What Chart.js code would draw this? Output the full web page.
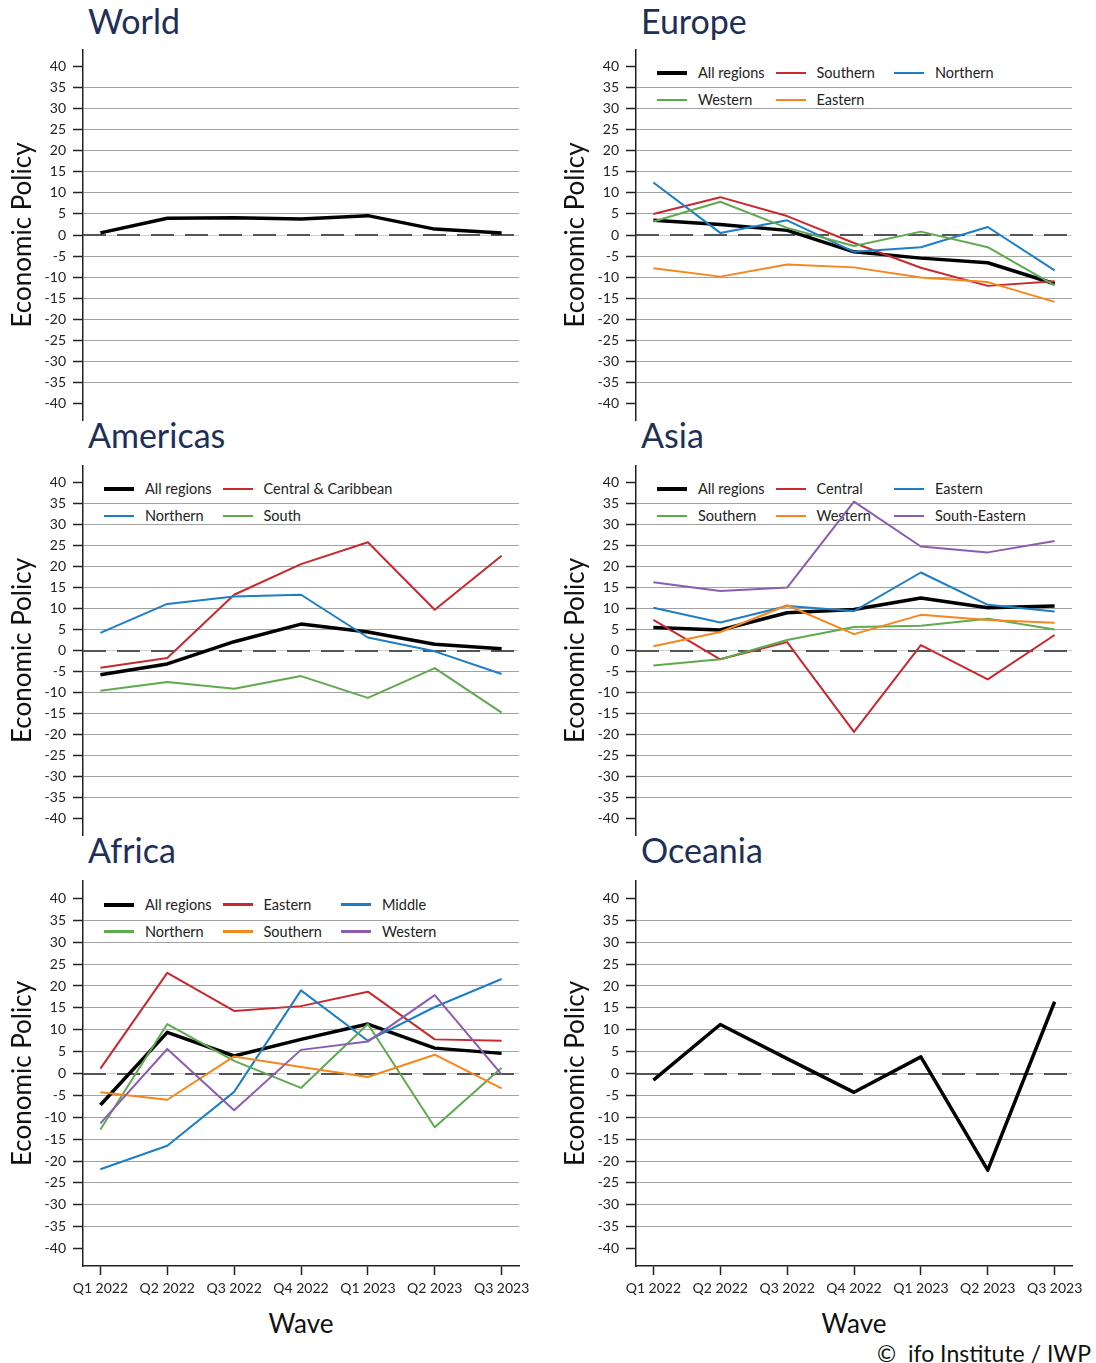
<!DOCTYPE html>
<html>
<head>
<meta charset="utf-8">
<script src="https://cdn.jsdelivr.net/npm/chart.js@4.4.1/dist/chart.umd.min.js"></script>
<style>
  body { margin: 0; width: 1096px; height: 1363px; overflow: hidden; background: #fff; position: relative; font-family: Lato, sans-serif; }
  .title { position: absolute; font-size: 34px; line-height: 1.2; color: #1f2f57; white-space: nowrap; }
  .panel { position: absolute; z-index: 2; }
  .panel canvas { display: block; }
  .key { position: absolute; height: 0; }
  .key i { position: absolute; left: 0; width: 30px; }
  .key span { position: absolute; left: 41px; top: -10px; line-height: 20px; font-size: 14.5px; color: #222; white-space: nowrap; }
  .wave { position: absolute; width: 200px; text-align: center; font-size: 26px; line-height: 30px; color: #111; }
  .source { position: absolute; right: 5px; top: 1338px; font-size: 23px; line-height: 30px; color: #111; white-space: pre; }
</style>
</head>
<body>
<script>
const waves = ["Q1 2022", "Q2 2022", "Q3 2022", "Q4 2022", "Q1 2023", "Q2 2023", "Q3 2023"];
const yTicks = [-40, -35, -30, -25, -20, -15, -10, -5, 0, 5, 10, 15, 20, 25, 30, 35, 40];

const world = [0.5, 4.0, 4.1, 3.8, 4.6, 1.4, 0.5];

const europeAll = [3.5, 2.5, 1.1, -4.0, -5.5, -6.6, -11.6];
const europeSouthern = [5.0, 9.0, 4.5, -1.9, -7.8, -12.1, -11.0];
const europeNorthern = [12.5, 0.5, 3.5, -4.0, -2.9, 1.9, -8.4];
const europeWestern = [3.2, 7.9, 1.7, -2.6, 0.8, -2.9, -12.0];
const europeEastern = [-7.9, -9.9, -7.0, -7.7, -10.1, -11.2, -15.9];

const americasAll = [-5.8, -3.2, 2.1, 6.3, 4.4, 1.5, 0.4];
const americasCentral = [-4.1, -1.8, 13.3, 20.6, 25.8, 9.7, 22.6];
const americasNorthern = [4.2, 11.1, 12.9, 13.3, 3.1, -0.2, -5.6];
const americasSouth = [-9.6, -7.5, -9.1, -6.1, -11.3, -4.2, -14.8];

const asiaAll = [5.5, 4.9, 9.0, 9.8, 12.5, 10.2, 10.6];
const asiaCentral = [7.3, -2.1, 2.0, -19.4, 1.3, -6.9, 3.7];
const asiaEastern = [10.2, 6.7, 10.6, 9.4, 18.6, 10.9, 9.3];
const asiaSouthern = [-3.6, -2.1, 2.5, 5.6, 5.9, 7.6, 5.0];
const asiaWestern = [1.0, 4.4, 10.8, 3.9, 8.5, 7.3, 6.6];
const asiaSouthEastern = [16.3, 14.2, 15.0, 35.5, 24.8, 23.4, 26.1];

const africaAll = [-7.2, 9.4, 4.0, 7.8, 11.3, 5.8, 4.6];
const africaEastern = [1.1, 23.0, 14.3, 15.4, 18.7, 7.8, 7.5];
const africaMiddle = [-21.9, -16.5, -4.2, 19.0, 7.5, 15.2, 21.6];
const africaNorthern = [-12.8, 11.3, 2.9, -3.3, 11.3, -12.3, 1.3];
const africaSouthern = [-4.3, -6.0, 3.9, 1.5, -0.8, 4.3, -3.4];
const africaWestern = [-11.4, 5.6, -8.4, 5.4, 7.3, 17.9, -0.2];

const oceania = [-1.5, 11.2, 3.4, -4.3, 3.8, -22.1, 16.4];

const BLACK = "#000000", RED = "#c8282e", BLUE = "#1c7ec6", GREEN = "#5faa4e", ORANGE = "#f5871c", PURPLE = "#8c5cb0";

const panels = [
  { title: "World", row: 0, col: 0, legend: false,
    series: [["All regions", world, BLACK]] },
  { title: "Europe", row: 0, col: 1, legend: true,
    series: [["All regions", europeAll, BLACK], ["Southern", europeSouthern, RED], ["Northern", europeNorthern, BLUE],
             ["Western", europeWestern, GREEN], ["Eastern", europeEastern, ORANGE]] },
  { title: "Americas", row: 1, col: 0, legend: true, legendCols: 2,
    series: [["All regions", americasAll, BLACK], ["Central & Caribbean", americasCentral, RED],
             ["Northern", americasNorthern, BLUE], ["South", americasSouth, GREEN]] },
  { title: "Asia", row: 1, col: 1, legend: true,
    series: [["All regions", asiaAll, BLACK], ["Central", asiaCentral, RED], ["Eastern", asiaEastern, BLUE],
             ["Southern", asiaSouthern, GREEN], ["Western", asiaWestern, ORANGE], ["South-Eastern", asiaSouthEastern, PURPLE]] },
  { title: "Africa", row: 2, col: 0, legend: true,
    series: [["All regions", africaAll, BLACK], ["Eastern", africaEastern, RED], ["Middle", africaMiddle, BLUE],
             ["Northern", africaNorthern, GREEN], ["Southern", africaSouthern, ORANGE], ["Western", africaWestern, PURPLE]] },
  { title: "Oceania", row: 2, col: 1, legend: false,
    series: [["All regions", oceania, BLACK]] }
];

// plot area of each row / column, in page pixels
const rows = [
  { top: 50, bottom: 420, titleTop: 1 },
  { top: 466, bottom: 835, titleTop: 415 },
  { top: 881, bottom: 1266, titleTop: 830 }
];
const cols = [
  { left: 0, width: 548, axis: 83, right: 519 },
  { left: 553, width: 543, axis: 636, right: 1072 }
];
const Y_MIN = -44, Y_MAX = 44;
const FONT = "Lato, sans-serif";

// dashed reference line at zero
const zeroLine = {
  id: "zeroLine",
  beforeDatasetsDraw(chart) {
    const { ctx, chartArea, scales } = chart;
    const py = Math.round(scales.y.getPixelForValue(0));
    ctx.save();
    ctx.strokeStyle = "#555";
    ctx.lineWidth = 2;
    ctx.setLineDash([23, 11]);
    ctx.beginPath();
    ctx.moveTo(chartArea.left, py);
    ctx.lineTo(chartArea.right, py);
    ctx.stroke();
    ctx.restore();
  }
};

function addDiv(cls, css, text) {
  const d = document.createElement("div");
  d.className = cls;
  Object.assign(d.style, css);
  if (text !== undefined) d.textContent = text;
  document.body.appendChild(d);
  return d;
}

panels.forEach(p => {
  const r = rows[p.row], c = cols[p.col];
  const bottomRow = p.row === 2;
  const pxPerUnit = (r.bottom - r.top) / (Y_MAX - Y_MIN);
  const y40 = r.top + (Y_MAX - 40) * pxPerUnit;

  addDiv("title", { left: (c.axis + 5) + "px", top: r.titleTop + "px" }, p.title);

  if (p.legend) {
    const ncol = p.legendCols || 3;
    p.series.forEach((s, i) => {
      const k = addDiv("key", {
        left: (c.axis + 21 + (i % ncol) * 118.5) + "px",
        top: (y40 + 6 + Math.floor(i / ncol) * 27) + "px"
      });
      const sample = document.createElement("i");
      const w = s[2] === BLACK ? 4 : 2.5;
      Object.assign(sample.style, { height: w + "px", top: (-w / 2) + "px", background: s[2] });
      const label = document.createElement("span");
      label.textContent = s[0];
      k.appendChild(sample);
      k.appendChild(label);
    });
  }

  const padTop = 20, padBottom = bottomRow ? 0 : 20, xAxisH = 40;
  const holder = addDiv("panel", {
    left: c.left + "px",
    top: (r.top - padTop) + "px"
  });
  const canvas = document.createElement("canvas");
  canvas.width = c.width;
  canvas.height = (r.bottom - r.top) + padTop + (bottomRow ? xAxisH : padBottom);
  holder.appendChild(canvas);

  const n = p.series.length;
  new Chart(canvas, {
    type: "line",
    data: {
      datasets: p.series.map((s, i) => ({
        label: s[0],
        data: s[1].map((v, j) => ({ x: j, y: v })),
        borderColor: s[2],
        borderWidth: s[2] === BLACK ? 3.5 : 2,
        order: n - i
      }))
    },
    options: {
      responsive: false,
      animation: false,
      devicePixelRatio: 1,
      layout: { padding: { top: padTop, bottom: padBottom, left: 0, right: c.width - (c.right - c.left) } },
      plugins: { legend: { display: false }, tooltip: { enabled: false } },
      elements: {
        point: { radius: 0 },
        line: { tension: 0, borderJoinStyle: "round", borderCapStyle: "butt" }
      },
      scales: {
        x: {
          type: "linear",
          min: -0.26,
          max: 6.26,
          display: bottomRow,
          afterBuildTicks: s => { s.ticks = waves.map((w, i) => ({ value: i })); },
          afterFit: s => { s.height = bottomRow ? xAxisH : 0; },
          ticks: {
            callback: v => waves[v],
            font: { family: FONT, size: 14 },
            color: "#222",
            padding: 5,
            maxRotation: 0,
            autoSkip: false
          },
          grid: { drawOnChartArea: false, drawTicks: true, tickLength: 9, tickColor: "#222", tickWidth: 1.5 },
          border: { display: true, color: "#222", width: 1.5 }
        },
        y: {
          min: Y_MIN,
          max: Y_MAX,
          afterBuildTicks: s => { s.ticks = yTicks.map(v => ({ value: v })); },
          afterFit: s => { s.width = c.axis - c.left; },
          ticks: { font: { family: FONT, size: 14 }, color: "#222", padding: 7, autoSkip: false },
          grid: {
            color: ctx => {
              const v = ctx.tick ? ctx.tick.value : null;
              if (v === 0) return "#cfcfcf";
              if (v === 40 || v === -40) return "rgba(0,0,0,0)";
              return "#a2a2a2";
            },
            lineWidth: 1,
            tickLength: 10,
            tickColor: "#222",
            tickWidth: 1.5
          },
          border: { color: "#222", width: 1.5 },
          title: {
            display: true,
            text: "Economic Policy",
            font: { family: FONT, size: 26 },
            color: "#111",
            padding: { top: 7, bottom: 0 }
          }
        }
      }
    },
    plugins: [zeroLine]
  });

  if (bottomRow) {
    addDiv("wave", { left: ((c.axis + c.right) / 2 - 100) + "px", top: "1308px" }, "Wave");
  }
});

addDiv("source", {}, "\u00a9  ifo Institute / IWP");
</script>
</body>
</html>
